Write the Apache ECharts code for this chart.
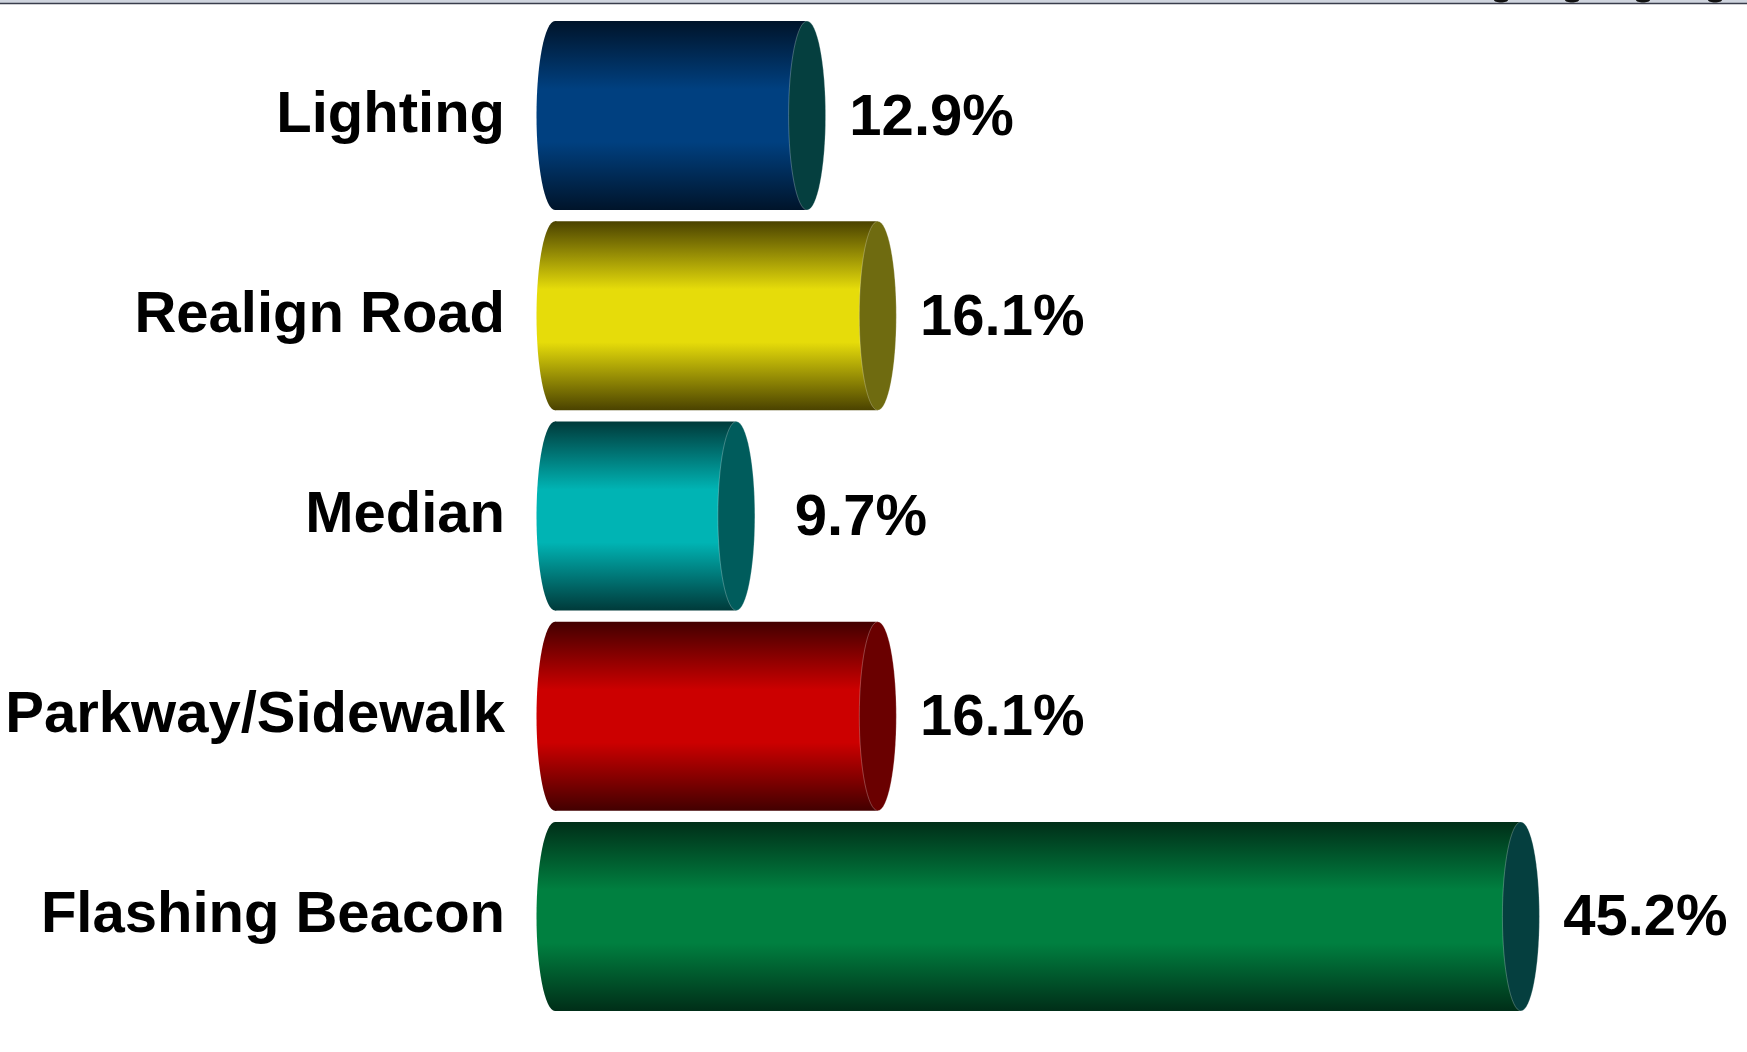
<!DOCTYPE html>
<html>
<head>
<meta charset="utf-8">
<script src="https://cdn.jsdelivr.net/npm/echarts@6/dist/echarts.min.js"></script>
<style>
  html, body { margin: 0; padding: 0; background: #fff; }
  #chart { width: 1747px; height: 1052px; }
</style>
</head>
<body>
<div id="chart"></div>
<script>
// chart values
const categories = ['Lighting', 'Realign Road', 'Median', 'Parkway/Sidewalk', 'Flashing Beacon'];
const shares = [12.9, 16.1, 9.7, 16.1, 45.2];

// cylinder colours: bright middle band, dark edges, end cap
const brightColors = ['#004080', '#E6DC0A', '#00B4B4', '#CC0000', '#008040'];
const edgeColors = ['#00142A', '#4A4200', '#003A3A', '#420000', '#002E18'];
const capColors = ['#053F3F', '#6F6B10', '#005C5C', '#6A0000', '#053F3F'];

const chart = echarts.init(document.getElementById('chart'));

const FONT = '"Liberation Sans", Arial, sans-serif';

function renderCylinder(params, api) {
  const idx = api.value(0);
  const val = api.value(1);
  const start = api.coord([0, idx]);
  const end = api.coord([val, idx]);
  const band = api.size([0, 1])[1];
  const h = band * 0.944;
  const top = start[1] - h / 2;
  const rx = 18.5;
  const xl = start[0] + 33;   // back cap centre
  const xe = end[0];          // front cap centre

  const grad = new echarts.graphic.LinearGradient(0, 0, 0, 1, [
    { offset: 0, color: edgeColors[idx] },
    { offset: 0.36, color: brightColors[idx] },
    { offset: 0.64, color: brightColors[idx] },
    { offset: 1, color: edgeColors[idx] }
  ]);

  return {
    type: 'group',
    children: [
      {
        type: 'ellipse',
        shape: { cx: xl, cy: start[1], rx: rx, ry: h / 2 },
        style: { fill: grad }
      },
      {
        type: 'rect',
        shape: { x: xl, y: top, width: xe - xl, height: h },
        style: { fill: grad }
      },
      {
        type: 'ellipse',
        shape: { cx: xe, cy: start[1], rx: rx, ry: h / 2 },
        style: { fill: capColors[idx], stroke: 'rgba(255,255,255,0.25)', lineWidth: 1 }
      },
      {
        type: 'text',
        x: xe + rx + 106,
        y: start[1] + 3,
        style: {
          text: val.toFixed(1) + '%',
          fill: '#000',
          font: 'bold 58px ' + FONT,
          align: 'center',
          verticalAlign: 'middle'
        }
      }
    ]
  };
}

const option = {
  backgroundColor: '#fff',
  animation: false,
  grid: { left: 522, right: 120, top: 15.5, height: 1001 },
  xAxis: {
    type: 'value',
    min: 0,
    max: 50,
    show: false
  },
  yAxis: {
    type: 'category',
    data: categories,
    inverse: true,
    axisLine: { show: false },
    axisTick: { show: false },
    splitLine: { show: false },
    axisLabel: {
      margin: 17,
      color: '#000',
      fontSize: 58,
      fontWeight: 'bold',
      fontFamily: FONT,
      padding: [6, 0, 0, 0]
    }
  },
  series: [
    {
      type: 'custom',
      renderItem: renderCylinder,
      encode: { x: 1, y: 0 },
      data: shares.map((v, i) => [i, v])
    }
  ],
  graphic: [
    { type: 'rect', shape: { x: 0, y: 0, width: 1747, height: 3 }, style: { fill: '#cfd4de' } },
    { type: 'line', shape: { x1: 0, y1: 3.5, x2: 1747, y2: 3.5 }, style: { stroke: '#3a3d4c', lineWidth: 1.5 } },
    { type: 'ellipse', shape: { cx: 1501, cy: 0, rx: 7, ry: 2.5 }, style: { fill: '#111' } },
    { type: 'ellipse', shape: { cx: 1572, cy: 0, rx: 7, ry: 2.5 }, style: { fill: '#111' } },
    { type: 'ellipse', shape: { cx: 1643, cy: 0, rx: 7, ry: 2.5 }, style: { fill: '#111' } },
    { type: 'ellipse', shape: { cx: 1715, cy: 0, rx: 7, ry: 2.5 }, style: { fill: '#111' } }
  ]
};

chart.setOption(option);
</script>
</body>
</html>
